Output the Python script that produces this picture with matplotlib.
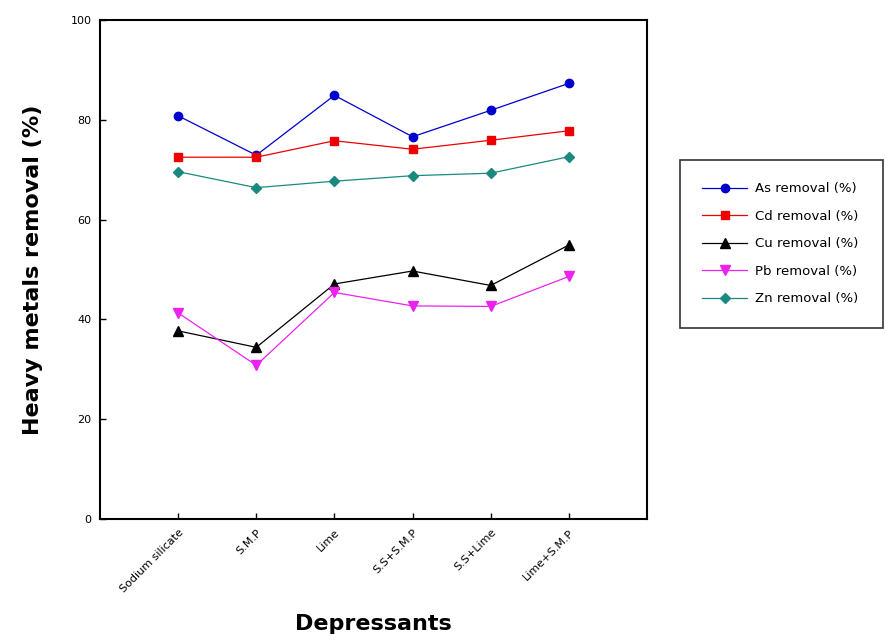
import numpy as np
import matplotlib
matplotlib.use("Agg")
import matplotlib.pyplot as plt

categories = ["Sodium silicate", "S.M.P", "Lime", "S.S+S.M.P", "S.S+Lime", "Lime+S.M.P"]

as_removal = [80.8, 72.9, 84.9, 76.6, 81.9, 87.3]
cd_removal = [72.5, 72.5, 75.8, 74.1, 75.9, 77.8]
cu_removal = [37.7, 34.4, 47.1, 49.7, 46.8, 54.9]
pb_removal = [41.3, 30.8, 45.4, 42.7, 42.6, 48.6]
zn_removal = [69.6, 66.4, 67.7, 68.8, 69.3, 72.6]

series_labels = ["As removal (%)", "Cd removal (%)", "Cu removal (%)",
                 "Pb removal (%)", "Zn removal (%)"]

fig = plt.figure(figsize=(8.85, 6.42), dpi=100)
ax = fig.add_axes([100 / 885, 1 - 519 / 642, 547 / 885, 499 / 642])

x = np.arange(1, len(categories) + 1)

ax.plot(x, as_removal, color="#0000cc", marker="o", ms=6, lw=0.9, label=series_labels[0])
ax.plot(x, cd_removal, color="#ee0000", marker="s", ms=6, lw=0.9, label=series_labels[1])
ax.plot(x, cu_removal, color="black", marker="^", ms=7, lw=0.9, label=series_labels[2])
ax.plot(x, pb_removal, color="#ee22ee", marker="v", ms=7, lw=0.9, label=series_labels[3])
ax.plot(x, zn_removal, color="#1a8a80", marker="D", ms=5.5, lw=0.9, label=series_labels[4])

ax.set_xlim(0, 7)
ax.set_ylim(0, 100)
ax.set_yticks([0, 20, 40, 60, 80, 100])
ax.set_xticks(x)
ax.set_xticklabels(categories, rotation=45, ha="right", rotation_mode="anchor", fontsize=8)
ax.tick_params(direction="in", length=4, width=1, labelsize=8, pad=6)

for s in ax.spines.values():
    s.set_linewidth(1.5)

ax.set_ylabel("Heavy metals removal (%)", fontsize=16, fontweight="bold", labelpad=20)
ax.set_xlabel("Depressants", fontsize=16, fontweight="bold", labelpad=14)

leg = fig.legend(loc="upper left",
                 bbox_to_anchor=(680 / 885, 1 - 322 / 642, 203 / 885, 162 / 642),
                 mode="expand", fontsize=9.5, frameon=True, fancybox=False,
                 edgecolor="black", handlelength=3.4, handletextpad=0.6,
                 borderpad=1.7, labelspacing=1.1, borderaxespad=0)
leg.get_frame().set_linewidth(1.2)

fig.savefig("out.png", dpi=100)
